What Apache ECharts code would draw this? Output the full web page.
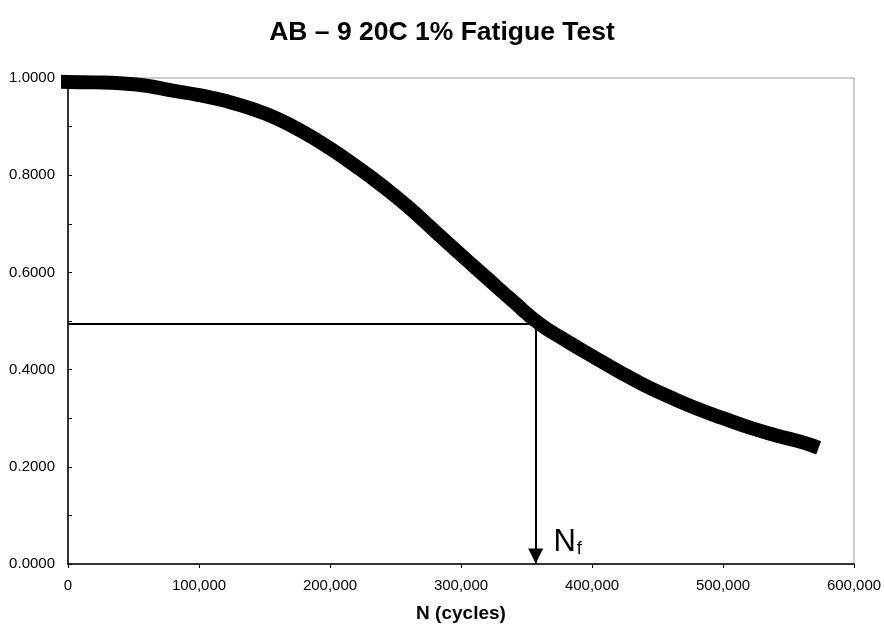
<!DOCTYPE html>
<html>
<head>
<meta charset="utf-8">
<script src="https://cdn.jsdelivr.net/npm/echarts@6/dist/echarts.min.js"></script>
<style>
  html, body { margin: 0; padding: 0; background: #fff; }
  #chart { width: 884px; height: 624px; }
</style>
</head>
<body>
<div id="chart"></div>
<script>
// cycles
var cycles = [0, 20000, 40000, 60000, 80000, 100000, 120000, 140000, 160000, 180000,
  200000, 220000, 240000, 260000, 280000, 300000, 320000, 340000, 360000, 380000,
  400000, 420000, 440000, 460000, 480000, 500000, 520000, 540000, 560000, 568000];
var ratio = [0.992, 0.991, 0.989, 0.984, 0.974, 0.965, 0.953, 0.937, 0.916, 0.888,
  0.855, 0.818, 0.778, 0.734, 0.685, 0.636, 0.588, 0.540, 0.494, 0.460,
  0.428, 0.397, 0.368, 0.343, 0.320, 0.300, 0.281, 0.265, 0.251, 0.244];
var nf = 357000;
var halfLevel = 0.495;

var fatigue = [];
for (var i = 0; i < cycles.length; i++) {
  fatigue.push([cycles[i], ratio[i]]);
}

var myChart = echarts.init(document.getElementById("chart"), null, { renderer: "canvas" });

var option = {
  animation: false,
  backgroundColor: "#fff",
  textStyle: { fontFamily: "Liberation Sans, Arial, sans-serif", color: "#000" },
  title: {
    text: "AB \u2013 9 20C 1% Fatigue Test",
    left: "center",
    top: 14,
    textStyle: { fontSize: 26.5, fontWeight: "bold", color: "#000" }
  },
  grid: {
    left: 68, right: 30, top: 78, bottom: 60,
    outerBoundsMode: "none",
    show: true, borderColor: "#9a9a9a", borderWidth: 1
  },
  xAxis: {
    type: "value",
    min: 0, max: 600000, interval: 100000,
    name: "N (cycles)",
    nameLocation: "middle",
    nameGap: 40,
    nameTextStyle: { fontSize: 19, fontWeight: "bold", color: "#000" },
    axisLine: { lineStyle: { color: "#000", width: 1.5 } },
    axisTick: { show: true, length: 4, lineStyle: { color: "#000" } },
    axisLabel: {
      fontSize: 15, color: "#000", margin: 14,
      formatter: function (v) { return v.toLocaleString("en-US"); }
    },
    splitLine: { show: false }
  },
  yAxis: {
    type: "value",
    min: 0, max: 1, interval: 0.2,
    axisLine: { show: true, lineStyle: { color: "#000", width: 1.5 } },
    axisTick: { show: true, inside: true, length: 4, lineStyle: { color: "#000" } },
    minorTick: { show: true, splitNumber: 2, length: 4, lineStyle: { color: "#000" } },
    axisLabel: {
      fontSize: 15, color: "#000", margin: 13,
      formatter: function (v) { return v.toFixed(4); }
    },
    splitLine: { show: false }
  },
  series: [
    {
      type: "line",
      data: fatigue,
      smooth: true,
      showSymbol: false,
      lineStyle: { color: "#000", width: 14, cap: "square" },
      markLine: {
        silent: true,
        animation: false,
        lineStyle: { color: "#000", width: 2, type: "solid" },
        label: { show: false },
        data: [
          [
            { coord: [0, halfLevel], symbol: "none" },
            { coord: [nf, halfLevel], symbol: "none" }
          ],
          [
            { coord: [nf, halfLevel], symbol: "none" },
            { coord: [nf, 0], symbol: "triangle", symbolSize: [15, 15], symbolRotate: 180, symbolOffset: [0, 8] }
          ]
        ]
      },
      markPoint: {
        silent: true,
        symbol: "circle",
        symbolSize: 0,
        data: [{ coord: [nf, 0] }],
        label: {
          show: true,
          position: "inside",
          offset: [32, -22],
          formatter: "{n|N}{s|f}",
          rich: {
            n: { fontSize: 31, color: "#000", fontFamily: "Liberation Sans, Arial, sans-serif" },
            s: { fontSize: 18, color: "#000", padding: [14, 0, 0, 1], fontFamily: "Liberation Sans, Arial, sans-serif" }
          }
        }
      }
    }
  ]
};

myChart.setOption(option);
window.addEventListener("resize", myChart.resize);
</script>
</body>
</html>
